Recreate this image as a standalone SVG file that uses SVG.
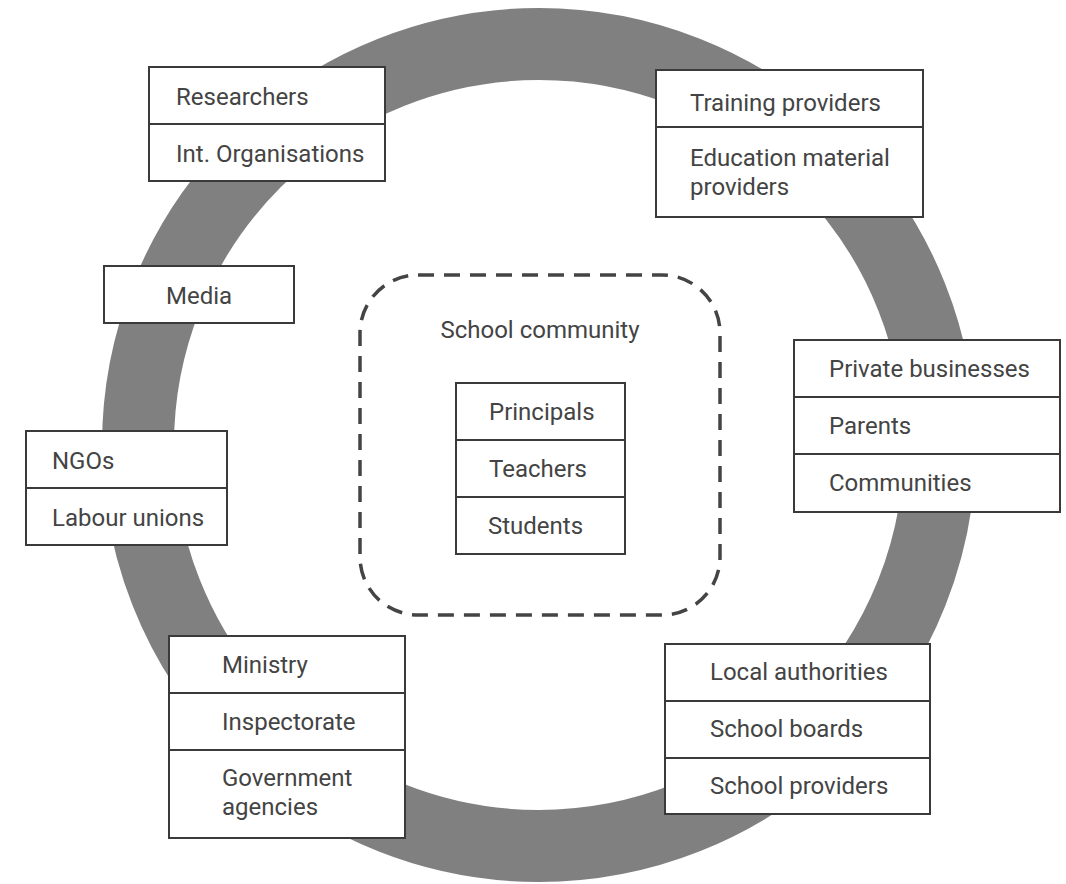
<svg xmlns="http://www.w3.org/2000/svg" width="1066" height="884" viewBox="0 0 1066 884">
<style>
.box{fill:#fff;stroke:#3a3a3a;stroke-width:2}
.div{stroke:#3a3a3a;stroke-width:2}
text{font-family:Roboto,"Liberation Sans",sans-serif;font-size:24px;fill:#444}
</style>
<rect width="1066" height="884" fill="#fff"/>
<g id="ring"><circle cx="539" cy="445" r="401" fill="none" stroke="#808080" stroke-width="72"/></g>
<g id="school-community">
<rect x="360" y="275" width="360" height="340" rx="58" fill="none" stroke="#444" stroke-width="3.5" stroke-dasharray="16 10"/>
<text x="540" y="338" text-anchor="middle">School community</text>
</g>
<g id="core">
<rect class="box" x="456" y="383" width="169" height="171"/>
<line class="div" x1="456" y1="440" x2="625" y2="440"/>
<line class="div" x1="456" y1="497" x2="625" y2="497"/>
<text x="489" y="420">Principals</text>
<text x="489" y="477">Teachers</text>
<text x="488" y="534">Students</text>
</g>
<g id="researchers">
<rect class="box" x="149" y="67" width="236" height="114"/>
<line class="div" x1="149" y1="124" x2="385" y2="124"/>
<text x="176" y="105">Researchers</text>
<text x="176" y="162">Int. Organisations</text>
</g>
<g id="training">
<rect class="box" x="656" y="70" width="267" height="147"/>
<line class="div" x1="656" y1="127" x2="923" y2="127"/>
<text x="690" y="111">Training providers</text>
<text x="690" y="166">Education material</text>
<text x="690" y="195">providers</text>
</g>
<g id="media">
<rect class="box" x="104" y="266" width="190" height="57"/>
<text x="166" y="304">Media</text>
</g>
<g id="ngos">
<rect class="box" x="26" y="431" width="201" height="114"/>
<line class="div" x1="26" y1="488" x2="227" y2="488"/>
<text x="52" y="469">NGOs</text>
<text x="52" y="526">Labour unions</text>
</g>
<g id="private">
<rect class="box" x="794" y="340" width="266" height="172"/>
<line class="div" x1="794" y1="397" x2="1060" y2="397"/>
<line class="div" x1="794" y1="454" x2="1060" y2="454"/>
<text x="829" y="377">Private businesses</text>
<text x="829" y="434">Parents</text>
<text x="829" y="491">Communities</text>
</g>
<g id="ministry">
<rect class="box" x="169" y="636" width="236" height="202"/>
<line class="div" x1="169" y1="693" x2="405" y2="693"/>
<line class="div" x1="169" y1="750" x2="405" y2="750"/>
<text x="222" y="673">Ministry</text>
<text x="222" y="730">Inspectorate</text>
<text x="222" y="786">Government</text>
<text x="222" y="815">agencies</text>
</g>
<g id="local">
<rect class="box" x="665" y="644" width="265" height="170"/>
<line class="div" x1="665" y1="701" x2="930" y2="701"/>
<line class="div" x1="665" y1="758" x2="930" y2="758"/>
<text x="710" y="680">Local authorities</text>
<text x="710" y="737">School boards</text>
<text x="710" y="794">School providers</text>
</g>
<g id="connectors"></g>
</svg>
